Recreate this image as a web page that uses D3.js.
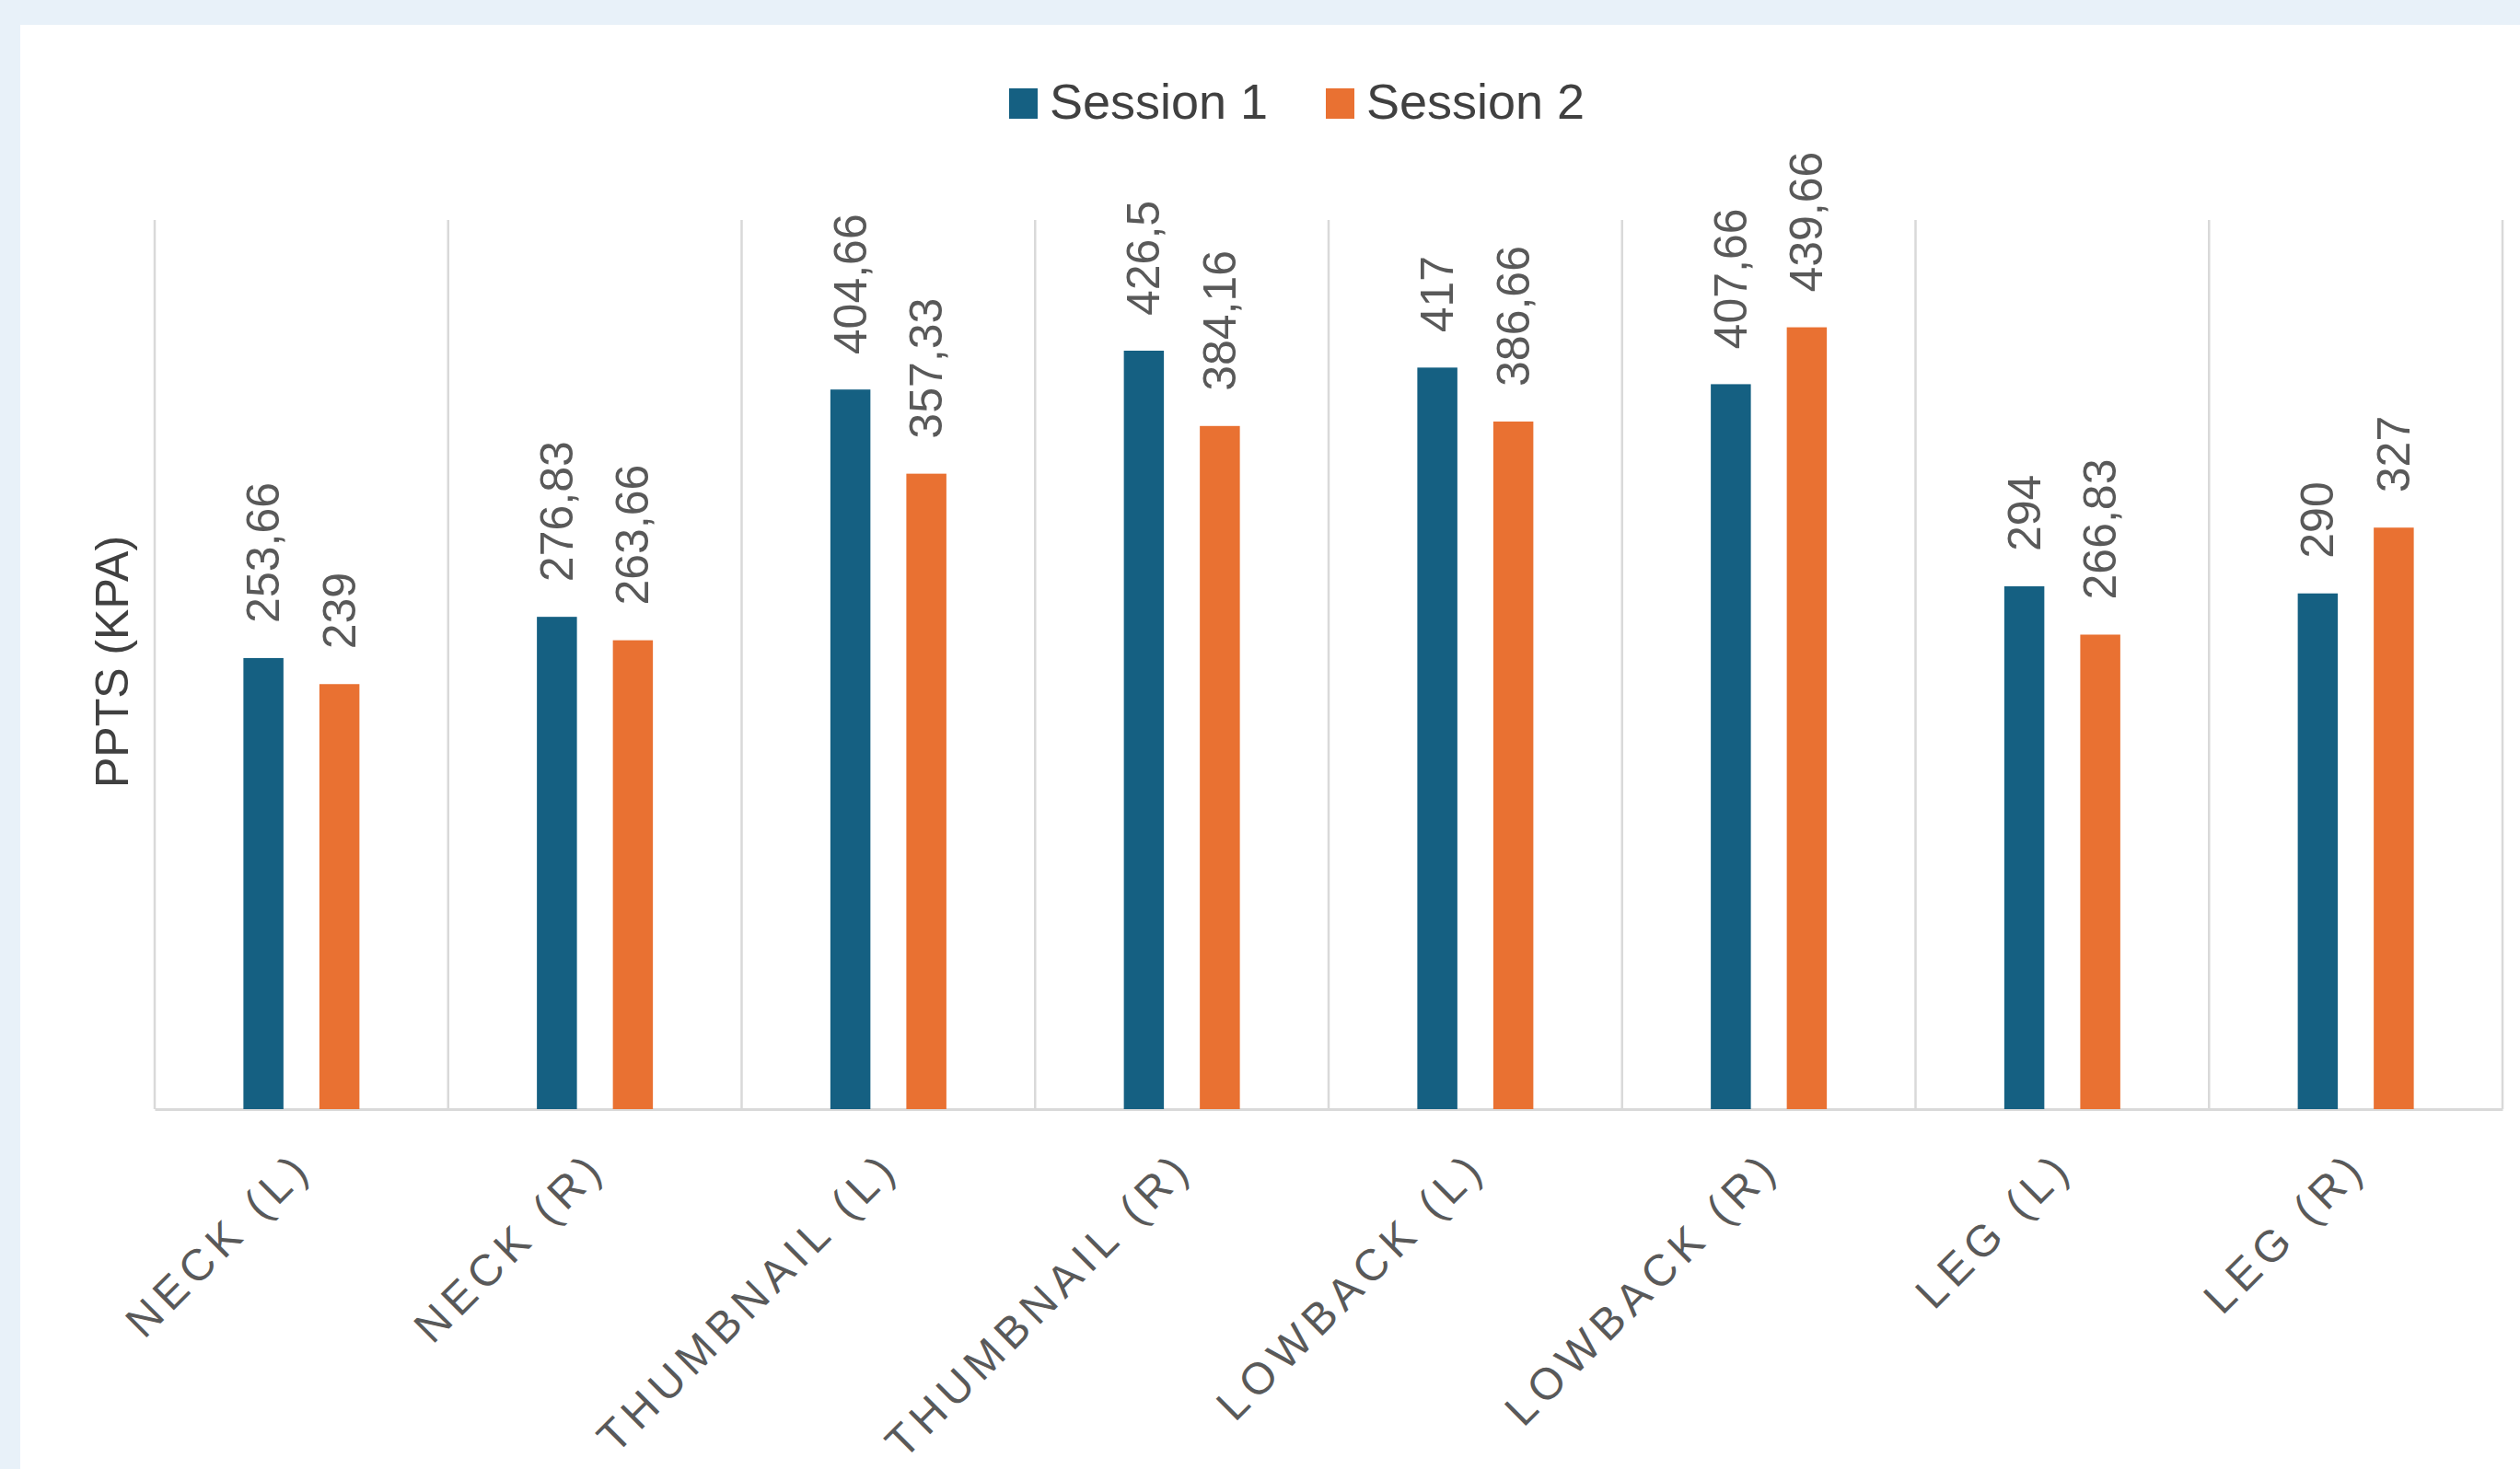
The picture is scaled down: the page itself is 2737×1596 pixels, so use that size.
<!DOCTYPE html>
<html>
<head>
<meta charset="utf-8">
<script src="https://cdn.jsdelivr.net/npm/d3@7"></script>
<style>
  html, body { margin: 0; padding: 0; background: #e8f1f9; }
  svg { display: block; }
</style>
</head>
<body>
<div id="chart"></div>
<script>
// data
const categories = ["NECK (L)", "NECK (R)", "THUMBNAIL (L)", "THUMBNAIL (R)", "LOWBACK (L)", "LOWBACK (R)", "LEG (L)", "LEG (R)"];
const series = ["Session 1", "Session 2"];
const session1 = [253.66, 276.83, 404.66, 426.5, 417, 407.66, 294, 290];
const session2 = [239, 263.66, 357.33, 384.16, 386.66, 439.66, 266.83, 327];
const colors = ["#156082", "#e97132"];

const W = 2737, H = 1596;
const margin = { left: 168, right: 19, top: 239, bottom: H - 1205 };

const svg = d3.select("#chart").append("svg")
  .attr("width", W).attr("height", H);

// light blue page with white card
svg.append("rect").attr("width", W).attr("height", H).attr("fill", "#e8f1f9");
svg.append("rect").attr("x", 22).attr("y", 27).attr("width", W - 22).attr("height", H - 27).attr("fill", "#fff");

const x0 = d3.scaleBand().domain(categories).range([margin.left, W - margin.right]).padding(0);
const x1 = d3.scaleBand().domain(series)
  .range([x0.bandwidth() / 2 - 63, x0.bandwidth() / 2 + 63]).paddingInner(0.473);
const y = d3.scaleLinear().domain([0, 500]).range([H - margin.bottom, margin.top]);

// vertical gridlines between categories
const edges = categories.map(c => x0(c)).concat([x0.range()[1]]);
svg.append("g").selectAll("line").data(edges).join("line")
  .attr("x1", d => d).attr("x2", d => d)
  .attr("y1", y(500)).attr("y2", y(0))
  .attr("stroke", "#d9d9d9").attr("stroke-width", 2.5);

// x axis
const xAxis = svg.append("g")
  .attr("transform", `translate(0,${y(0)})`)
  .call(d3.axisBottom(x0).tickSize(0).tickSizeOuter(0).tickPadding(0));
xAxis.select(".domain").attr("stroke", "#d9d9d9").attr("stroke-width", 3);
xAxis.selectAll("text")
  .attr("font-family", "'Liberation Sans', Arial, sans-serif")
  .attr("font-size", 48)
  .attr("letter-spacing", 7)
  .attr("fill", "#595959")
  .attr("text-anchor", "end")
  .attr("dy", 0)
  .attr("transform", "translate(14,66) rotate(-45)");

const rows = categories.map((c, i) => ({ cat: c, vals: [session1[i], session2[i]] }));

const groups = svg.append("g").selectAll("g").data(rows).join("g")
  .attr("transform", d => `translate(${x0(d.cat)},0)`);

groups.selectAll("rect").data(d => d.vals.map((v, j) => ({ s: series[j], v, j }))).join("rect")
  .attr("x", d => x1(d.s))
  .attr("width", x1.bandwidth())
  .attr("y", d => y(d.v))
  .attr("height", d => y(0) - y(d.v))
  .attr("fill", d => colors[d.j]);

// value labels, rotated
groups.selectAll("text.val").data(d => d.vals.map((v, j) => ({ s: series[j], v, j }))).join("text")
  .attr("class", "val")
  .attr("transform", d => `translate(${x1(d.s) + x1.bandwidth() / 2 + 17},${y(d.v) - 38}) rotate(-90)`)
  .attr("font-family", "'Liberation Sans', Arial, sans-serif")
  .attr("font-size", 50)
  .attr("fill", "#595959")
  .text(d => String(d.v).replace(".", ","));

// y axis title
svg.append("text")
  .attr("transform", `translate(139,${(y(0) + y(500)) / 2 - 3}) rotate(-90)`)
  .attr("text-anchor", "middle")
  .attr("font-family", "'Liberation Sans', Arial, sans-serif")
  .attr("font-size", 50)
  .attr("fill", "#404040")
  .text("PPTS (KPA)");

// legend
const legend = svg.append("g").attr("transform", "translate(1096,0)");
const lx = [0, 344];
series.forEach((s, j) => {
  legend.append("rect").attr("x", lx[j]).attr("y", 96).attr("width", 31).attr("height", 33).attr("fill", colors[j]);
  legend.append("text").attr("x", lx[j] + 44).attr("y", 129)
    .attr("font-family", "'Liberation Sans', Arial, sans-serif")
    .attr("font-size", 54)
    .attr("fill", "#404040")
    .text(s);
});
</script>
</body>
</html>
